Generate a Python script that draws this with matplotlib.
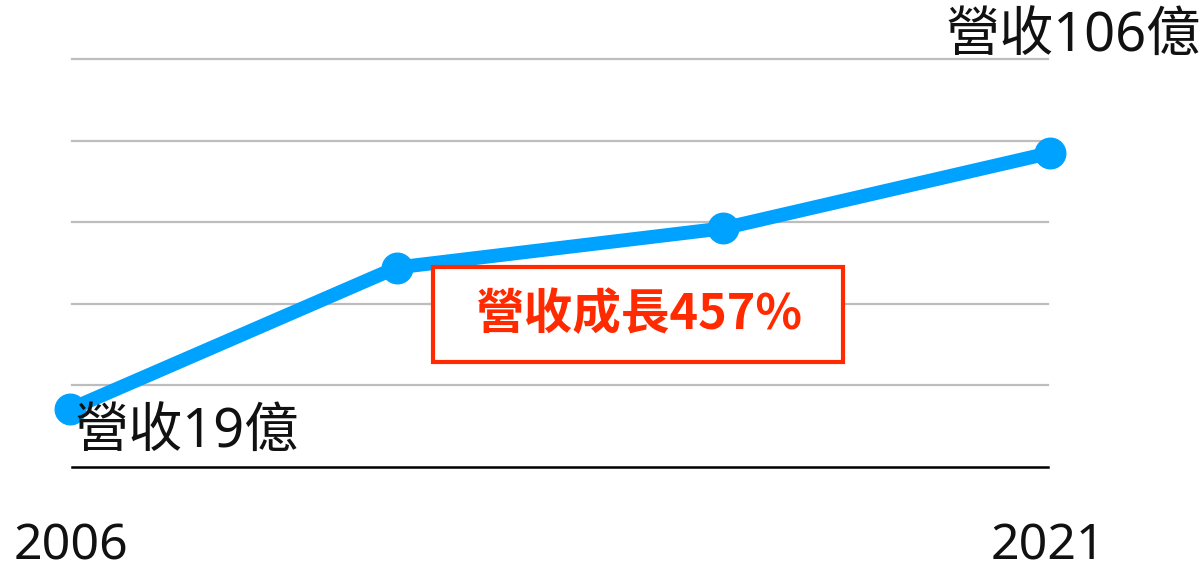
import matplotlib
matplotlib.use("Agg")
import matplotlib.pyplot as plt
from matplotlib.patches import Rectangle

plt.rcParams['font.family'] = ['Noto Sans', 'Noto Sans CJK TC', 'DejaVu Sans']

years = ["2006", "2011", "2016", "2021"]
revenue = [19, 66, 79, 104]
grid_values = [27, 54, 81, 108, 135]
start_label = "營收19億"
end_label = "營收106億"
growth_label = "營收成長457%"
year_labels = ["2006", "2021"]

W, H = 1202, 570
fig = plt.figure(figsize=(W / 100, H / 100), dpi=100)
ax = fig.add_axes([70 / W, (H - 466.5) / H, (1050 - 70) / W, (466.5 - 59.5) / H])
ax.set_xlim(0, len(years) - 1)
ax.set_ylim(0, 135)
ax.axis('off')

x = list(range(len(years)))
for g in grid_values:
    ax.plot([0.006, len(years) - 1 - 0.006], [g, g], color='#BDBDBD', lw=1.6, zorder=1, clip_on=False)
ax.plot([0.006, len(years) - 1 - 0.006], [0, 0], color='black', lw=1.8, zorder=1, clip_on=False)

ax.plot(x, revenue, color='#00A2FF', lw=10, solid_capstyle='round', solid_joinstyle='round',
        marker='o', markersize=22, zorder=3, clip_on=False)

def px(xp, yp):
    return xp / W, 1 - yp / H

fig.text(*px(75, 433), start_label, fontsize=39, weight='light', ha='left', va='center', color='#111111')
fig.text(*px(946, 37), end_label, fontsize=39, weight='light', ha='left', va='center', color='#111111')

fig.text(*px(71.5, 546), year_labels[0], fontsize=36, ha='center', va='center', color='#111111')
fig.text(*px(1048, 546), year_labels[1], fontsize=36, ha='center', va='center', color='#111111')

# annotation box
bx0, by0, bx1, by1 = 433, 267, 843, 362
rect = Rectangle(px(bx0, by1), (bx1 - bx0) / W, (by1 - by0) / H, transform=fig.transFigure,
                 fill=True, facecolor='white', edgecolor='#FF2A00', lw=3, zorder=5)
fig.add_artist(rect)
fig.text(*px(639, 315), growth_label, fontsize=35, weight='bold', ha='center', va='center',
         color='#FF2A00', zorder=6, family=['Noto Sans CJK TC', 'DejaVu Sans'])

fig.savefig('out.png', dpi=100)
